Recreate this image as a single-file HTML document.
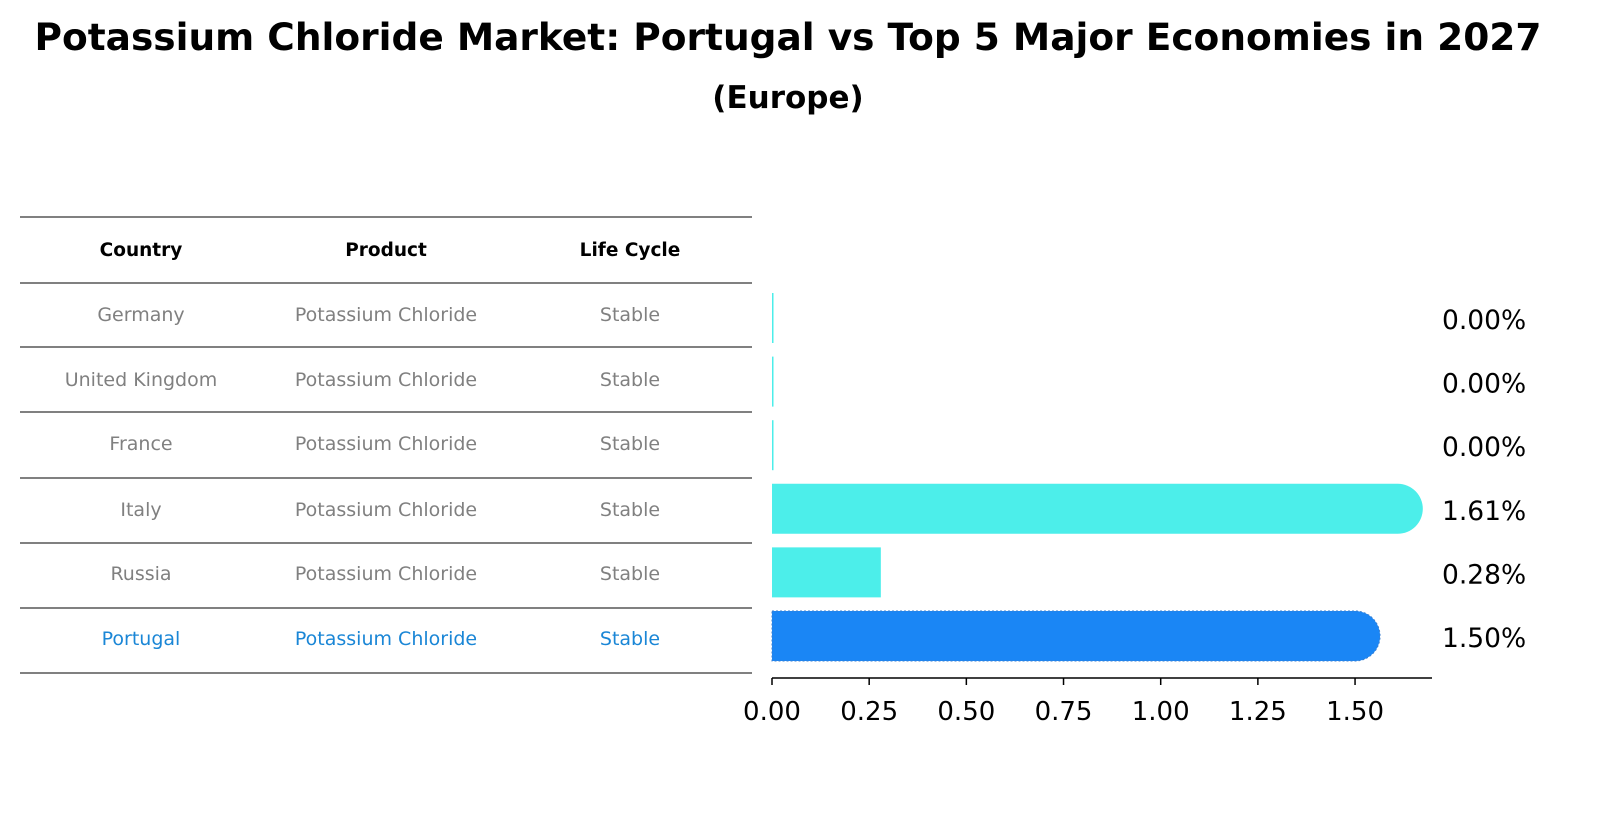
<!DOCTYPE html>
<html><head><meta charset="utf-8"><style>
body{margin:0;background:#fff;font-family:"Liberation Sans","DejaVu Sans",sans-serif;}
svg text{font-family:"DejaVu Sans","Liberation Sans",sans-serif;}
</style></head><body>
<svg width="1608" height="823" xmlns="http://www.w3.org/2000/svg">
<text x="788" y="50" text-anchor="middle" font-size="37.5" font-weight="bold">Potassium Chloride Market: Portugal vs Top 5 Major Economies in 2027</text>
<text x="788" y="108" text-anchor="middle" font-size="31" font-weight="bold">(Europe)</text>
<g id="table"></g>
<g id="bars"></g>
</svg>
<script>
const countries=["Germany","United Kingdom","France","Italy","Russia","Portugal"];
const products=["Potassium Chloride","Potassium Chloride","Potassium Chloride","Potassium Chloride","Potassium Chloride","Potassium Chloride"];
const lifecycle=["Stable","Stable","Stable","Stable","Stable","Stable"];
const values=[0.00,0.00,0.00,1.61,0.28,1.50];
const valueLabels=["0.00%","0.00%","0.00%","1.61%","0.28%","1.50%"];
const ticks=[0,0.25,0.5,0.75,1.0,1.25,1.5];
const tickLabels=["0.00","0.25","0.50","0.75","1.00","1.25","1.50"];

const NS="http://www.w3.org/2000/svg";
function mk(p,tag,a,txt){const e=document.createElementNS(NS,tag);for(const k in a)e.setAttribute(k,a[k]);if(txt!==undefined)e.textContent=txt;p.appendChild(e);return e;}
const x0=772,pxPer=388.7;
const X=v=>x0+v*pxPer;
const rowY=i=>318+i*63.6;
const tbl=document.getElementById('table');
const lines=[217,283,347,412,478,543,608,673];
lines.forEach((y,i)=>{const l=mk(tbl,'line',{x1:20,x2:752,y1:y,y2:y,stroke:'#000','stroke-width':1});

});
const cols=[141,386,630];
["Country","Product","Life Cycle"].forEach((h,j)=>{const t=mk(tbl,'text',{x:cols[j],y:256,'text-anchor':'middle','font-size':18.5,'font-weight':'bold'},h);

});
countries.forEach((c,i)=>{
 const col=i===5?'#1a86d6':'#808080';
 const y=[321,386,450,516,580,645][i];
 [c,products[i],lifecycle[i]].forEach((v,j)=>{const t=mk(tbl,'text',{x:cols[j],y:y,'text-anchor':'middle','font-size':19,fill:col},v);
 
 });
});
const g=document.getElementById('bars');
const h=50;
values.forEach((v,i)=>{
 const cy=rowY(i), w=X(v)-x0;
 const fill=i===5?'#1a86f5':'#4ceeea';
 let d;
 if(i===3||i===5){
   d=`M${x0},${cy-h/2} H${x0+w} A${h/2},${h/2} 0 0 1 ${x0+w},${cy+h/2} H${x0} Z`;
 } else {
   d=`M${x0},${cy-h/2} H${x0+Math.max(w,1.5)} V${cy+h/2} H${x0} Z`;
 }
 const b=mk(g,'path',{d:d,fill:fill});
 if(i===5){b.setAttribute('stroke','#3a7fd0');b.setAttribute('stroke-dasharray','2,2');b.setAttribute('stroke-width','1');}
 
 
 const t=mk(g,'text',{x:1442,y:cy+11,'font-size':26.5},valueLabels[i]);
 
 
});
const ax=mk(g,'line',{x1:x0,x2:1432,y1:678,y2:678,stroke:'#000','stroke-width':1.5});


ticks.forEach((v,i)=>{
 const tk=mk(g,'line',{x1:X(v),x2:X(v),y1:678,y2:685,stroke:'#000','stroke-width':1.5});
 
 
 const t=mk(g,'text',{x:X(v),y:720,'text-anchor':'middle','font-size':26},tickLabels[i]);
 
 
});
</script>
</body></html>
